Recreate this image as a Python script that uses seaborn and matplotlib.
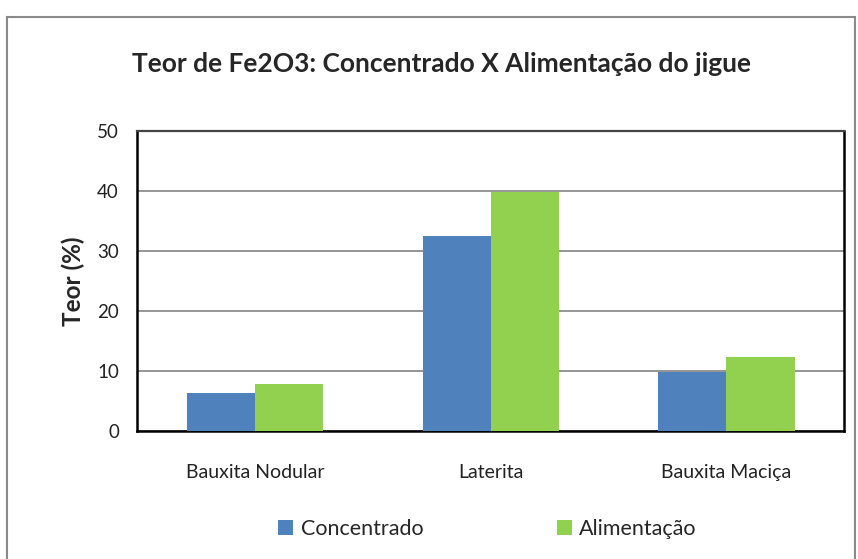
import matplotlib
matplotlib.use("Agg")
import matplotlib.pyplot as plt
import matplotlib.patches as mpatches
import seaborn as sns
import pandas as pd

# Fe2O3 grade per ore type
categories = ["Bauxita Nodular", "Laterita", "Bauxita Maciça"]
concentrado = [6.4, 32.5, 9.9]
alimentacao = [7.9, 39.9, 12.4]
series_names = ["Concentrado", "Alimentação"]
palette = ["#4F81BD", "#92D050"]
yticks = [0, 10, 20, 30, 40, 50]

df = pd.DataFrame({
    "Categoria": categories * 2,
    "Série": [series_names[0]] * len(categories) + [series_names[1]] * len(categories),
    "Teor": concentrado + alimentacao,
})

sns.set_theme(style="white")
plt.rcParams["font.family"] = ["Lato", "DejaVu Sans"]

fig = plt.figure(figsize=(8.58, 5.59), dpi=100)
ax = fig.add_axes([0.1597, 0.229, 0.8243, 0.5367])

sns.barplot(data=df, x="Categoria", y="Teor", hue="Série", palette=palette,
            order=categories, hue_order=series_names, width=0.578,
            saturation=1, edgecolor="none", linewidth=0, ax=ax, legend=False,
            errorbar=None, zorder=3)

ax.set_ylim(0, 50)
ax.set_xlim(-0.5, len(categories) - 0.5)
ax.set_yticks(yticks)
ax.set_yticklabels([str(t) for t in yticks], fontsize=13.5, color="#222222")
ax.tick_params(axis="y", direction="out", length=9, width=1.2, color="black", pad=4)
ax.tick_params(axis="x", length=0, pad=24, labelsize=14, labelcolor="#222222")
ax.yaxis.grid(True, color="#8c8c8c", linewidth=1.3, zorder=0)
ax.set_axisbelow(True)
for side in ["left", "right", "bottom"]:
    ax.spines[side].set_visible(True)
    ax.spines[side].set_color("black")
    ax.spines[side].set_linewidth(1.8)
ax.spines["top"].set_visible(True)
ax.spines["top"].set_color("#444444")
ax.spines["top"].set_linewidth(1.6)

ax.set_xlabel("")
ax.set_ylabel("Teor (%)", fontsize=17.5, fontweight="bold", labelpad=9)

fig.text(0.515, 0.886, "Teor de Fe2O3: Concentrado X Alimentação do jigue",
         ha="center", va="center", fontsize=19, fontweight="bold")

# legend below the plot
handles = [mpatches.Patch(facecolor=c, edgecolor="none", label=n)
           for c, n in zip(palette, series_names)]
fig.legend(handles=handles, loc="center", bbox_to_anchor=(0.568, 0.053),
           ncol=2, frameon=False, fontsize=15.5, handlelength=0.7,
           handleheight=0.7, handletextpad=0.35, columnspacing=6.2)

# outer chart frame
frame = mpatches.Rectangle((0.008, -0.05), 0.988, 1.05 - 0.03,
                           transform=fig.transFigure, fill=False,
                           edgecolor="#8a8a8a", linewidth=1.5)
fig.patches.append(frame)

fig.savefig("out.png", dpi=100)
